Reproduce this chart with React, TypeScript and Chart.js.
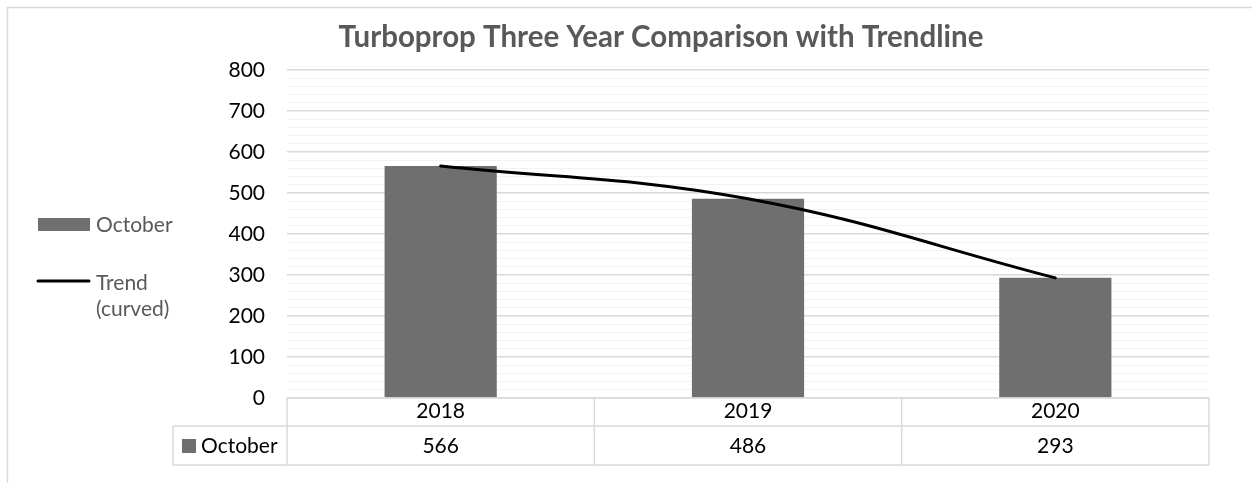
import { useEffect, useRef } from "react";
import { Chart, registerables } from "chart.js";

Chart.register(...registerables);

const titleText = "Turboprop Three Year Comparison with Trendline";
const categories = ["2018", "2019", "2020"];
const seriesName = "October";
const octoberValues = [566, 486, 293];
const trendLines = ["Trend", "(curved)"];
const trendValues = [566, 486, 293];
const yMin = 0;
const yMax = 800;
const yMajorStep = 100;
const yMinorStep = 20;

const FONT = "Lato, 'Noto Sans', sans-serif";
const BAR_COLOR = "#6f6f6f";
const GRID_MAJOR = "#d9d9d9";
const GRID_MINOR = "#f2f2f2";
const BORDER = "#d9d9d9";
const TEXT_GRAY = "#595959";
const TEXT_SIZE = 21;

const extrasPlugin = {
  id: "excelExtras",
  beforeDraw(chart: any) {
    const ctx = chart.ctx;
    ctx.save();
    ctx.fillStyle = "#ffffff";
    ctx.fillRect(0, 0, chart.width, chart.height);
    ctx.strokeStyle = BORDER;
    ctx.lineWidth = 1.5;
    ctx.strokeRect(7.5, 7.5, chart.width + 100, chart.height + 100);
    ctx.restore();
  },
  afterDraw(chart: any) {
    const ctx = chart.ctx;
    const area = chart.chartArea;
    const x = chart.scales.x;
    ctx.save();

    // Title
    ctx.font = `bold 29.5px ${FONT}`;
    ctx.fillStyle = TEXT_GRAY;
    ctx.textAlign = "center";
    ctx.textBaseline = "middle";
    ctx.fillText(titleText, 661, 37);

    // Legend (left)
    const barDs = chart.data.datasets[1];
    const lineDs = chart.data.datasets[0];
    ctx.fillStyle = barDs.backgroundColor;
    ctx.fillRect(38, 218, 52, 13);
    ctx.strokeStyle = lineDs.borderColor;
    ctx.lineWidth = 3;
    ctx.lineCap = "round";
    ctx.beginPath();
    ctx.moveTo(38, 281);
    ctx.lineTo(89, 281);
    ctx.stroke();
    ctx.font = `${TEXT_SIZE}px ${FONT}`;
    ctx.fillStyle = TEXT_GRAY;
    ctx.textAlign = "left";
    ctx.textBaseline = "middle";
    ctx.fillText(seriesName, 96, 225);
    trendLines.forEach((t, i) => ctx.fillText(t, 96, 283 + i * 26));

    // Data table
    const n = categories.length;
    const step = n > 1 ? x.getPixelForValue(1) - x.getPixelForValue(0) : area.right - area.left;
    const top = area.bottom;
    const mid = top + 28;
    const bot = top + 67;
    const headLeft = 173;
    ctx.strokeStyle = BORDER;
    ctx.lineWidth = 1.5;
    ctx.lineCap = "butt";
    ctx.beginPath();
    ctx.moveTo(area.left, top);
    ctx.lineTo(area.right, top);
    ctx.moveTo(headLeft, mid);
    ctx.lineTo(area.right, mid);
    ctx.moveTo(headLeft, bot);
    ctx.lineTo(area.right, bot);
    ctx.moveTo(headLeft, mid);
    ctx.lineTo(headLeft, bot);
    for (let i = 0; i <= n; i++) {
      const px = i < n ? x.getPixelForValue(i) - step / 2 : x.getPixelForValue(n - 1) + step / 2;
      ctx.moveTo(px, top);
      ctx.lineTo(px, bot);
    }
    ctx.stroke();

    ctx.fillStyle = barDs.backgroundColor;
    ctx.fillRect(182, 439, 14, 14);
    ctx.font = `${TEXT_SIZE}px ${FONT}`;
    ctx.fillStyle = "#000000";
    ctx.textAlign = "left";
    ctx.textBaseline = "middle";
    ctx.fillText(seriesName, 201, (mid + bot) / 2 + 1);
    ctx.textAlign = "center";
    barDs.data.forEach((v: number, i: number) => {
      ctx.fillText(String(v), x.getPixelForValue(i), (mid + bot) / 2 + 1);
    });
    ctx.restore();
  },
};

export default function App() {
  const ref = useRef<HTMLCanvasElement | null>(null);
  useEffect(() => {
    if (!ref.current) return;
    const chart = new Chart(ref.current, {
      type: "bar",
      data: {
        labels: categories,
        datasets: [
          {
            type: "line",
            label: trendLines.join(" "),
            data: trendValues,
            borderColor: "#000000",
            borderWidth: 3,
            tension: 0.4,
            pointRadius: 0,
            fill: false,
            borderCapStyle: "round",
            order: 0,
          } as any,
          {
            type: "bar",
            label: seriesName,
            data: octoberValues,
            backgroundColor: BAR_COLOR,
            barPercentage: 0.365,
            categoryPercentage: 1,
            order: 1,
          },
        ],
      },
      options: {
        responsive: false,
        animation: false,
        devicePixelRatio: 1,
        layout: { padding: { left: 0, top: 70, right: 43, bottom: 0 } },
        plugins: {
          legend: { display: false },
          title: { display: false },
          tooltip: { enabled: false },
        },
        scales: {
          x: {
            grid: { display: false, drawTicks: false },
            border: { display: false },
            ticks: {
              color: "#000000",
              font: { family: FONT, size: TEXT_SIZE },
              padding: 1,
              maxRotation: 0,
            },
            afterFit: (s: any) => {
              s.height = 85;
            },
          },
          y: {
            min: yMin,
            max: yMax,
            grid: {
              drawTicks: false,
              color: (c: any) => (c.tick && c.tick.value % yMajorStep === 0 ? GRID_MAJOR : GRID_MINOR),
              lineWidth: (c: any) => (c.tick && c.tick.value % yMajorStep === 0 ? 1.5 : 1),
            },
            border: { display: false },
            ticks: {
              stepSize: yMinorStep,
              autoSkip: false,
              color: "#000000",
              font: { family: FONT, size: TEXT_SIZE },
              padding: 22,
              callback: (v: any) => (Number(v) % yMajorStep === 0 ? String(v) : ""),
            },
            afterFit: (s: any) => {
              s.width = 287;
            },
          },
        },
      },
      plugins: [extrasPlugin],
    });
    return () => chart.destroy();
  }, []);
  return (
    <div style={{ position: "absolute", left: 0, top: 0, width: 1252, height: 483 }}>
      <canvas ref={ref} width={1252} height={483} style={{ display: "block" }} />
    </div>
  );
}
